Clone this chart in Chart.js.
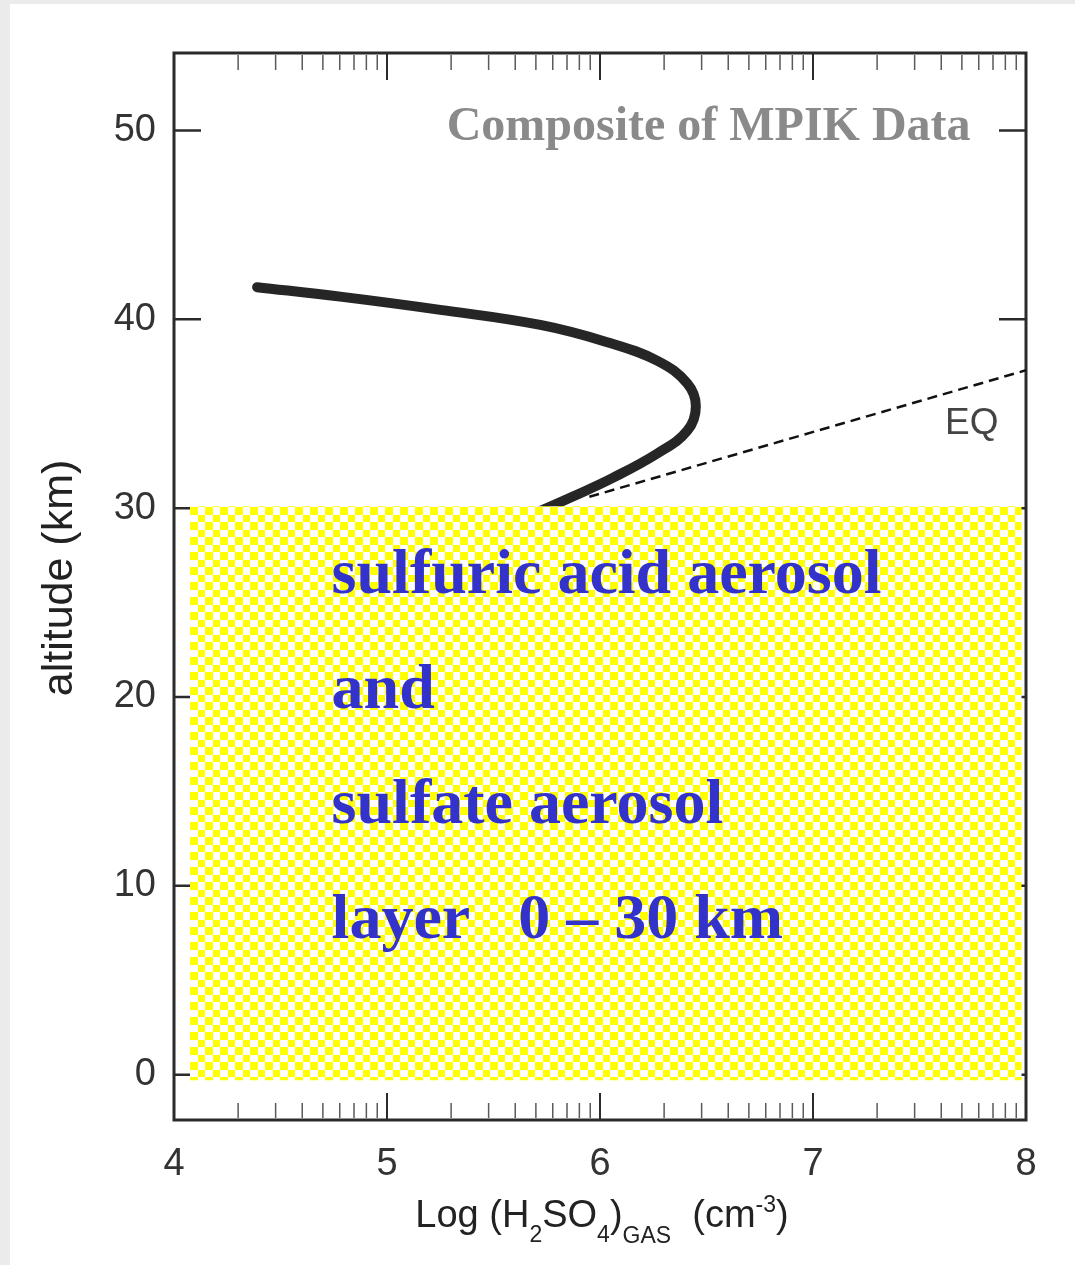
<!DOCTYPE html>
<html>
<head>
<meta charset="utf-8">
<script src="https://cdn.jsdelivr.net/npm/chart.js@4.4.1/dist/chart.umd.min.js"></script>
<style>
  html, body { margin: 0; padding: 0; background: #ebebeb; }
  #wrap { position: absolute; left: 0; top: 0; width: 1075px; height: 1265px; }
</style>
</head>
<body>
<div id="wrap"><canvas id="chart" width="1075" height="1265"></canvas></div>
<script>
// H2SO4 gas profile, log10(cm^-3) against altitude (km)
const curveX = [4.39, 4.78, 5.25, 5.72, 6.03, 6.27, 6.41, 6.45, 6.41, 6.27, 6.06, 5.87, 5.69];
const curveY = [41.7, 41.2, 40.5, 39.7, 38.8, 37.8, 36.6, 35.4, 34.1, 32.9, 31.6, 30.6, 29.7];

// equilibrium line (dashed)
const eqX = [5.95, 8.0];
const eqY = [30.6, 37.3];

// aerosol layer box
const layerX = [4.075, 7.98];
const layerTop = [30.1, 30.1];
const layerBottom = -0.3;

const xTicks = [4, 5, 6, 7, 8];
const yTicks = [0, 10, 20, 30, 40, 50];
const minorPerDecade = [2, 3, 4, 5, 6, 7, 8, 9];

const layerLines = ["sulfuric acid aerosol", "and", "sulfate aerosol", "layer   0 \u2013 30 km"];

const SANS = '"Liberation Sans", Arial, sans-serif';
const SERIF = '"Liberation Serif", "Times New Roman", serif';

// yellow / white checker like the original fill
function checker() {
  const c = document.createElement("canvas");
  c.width = 15; c.height = 15;
  const g = c.getContext("2d");
  g.fillStyle = "#ffffff";
  g.fillRect(0, 0, 15, 15);
  g.fillStyle = "#ffff00";
  g.fillRect(0, 0, 8, 8);
  g.fillRect(8, 8, 7, 7);
  const p = g.createPattern(c, "repeat");
  p.setTransform(new DOMMatrix().translate(190, 507));
  return p;
}

const background = {
  id: "background",
  beforeDraw(chart) {
    const ctx = chart.ctx;
    ctx.save();
    ctx.fillStyle = "#ebebeb";
    ctx.fillRect(0, 0, chart.width, chart.height);
    ctx.fillStyle = "#ffffff";
    ctx.fillRect(10, 4, chart.width - 10, chart.height - 4);
    ctx.restore();
  }
};

const frameAndTicks = {
  id: "frameAndTicks",
  beforeDatasetsDraw(chart) {
    const { ctx, chartArea: a, scales: { x, y } } = chart;
    ctx.save();
    ctx.strokeStyle = "#2b2b2b";
    ctx.lineWidth = 2.5;
    yTicks.forEach((v) => {
      const py = y.getPixelForValue(v);
      ctx.beginPath();
      ctx.moveTo(a.left, py); ctx.lineTo(a.left + 27, py);
      ctx.moveTo(a.right, py); ctx.lineTo(a.right - 27, py);
      ctx.stroke();
    });
    for (let d = xTicks[0]; d < xTicks[xTicks.length - 1]; d++) {
      ctx.strokeStyle = "#5a5a5a";
      ctx.lineWidth = 1.5;
      minorPerDecade.forEach((k) => {
        const px = x.getPixelForValue(d + Math.log10(k));
        ctx.beginPath();
        ctx.moveTo(px, a.top + 2); ctx.lineTo(px, a.top + 17);
        ctx.moveTo(px, a.bottom - 2); ctx.lineTo(px, a.bottom - 17);
        ctx.stroke();
      });
      if (d > xTicks[0]) {
        const px = x.getPixelForValue(d);
        ctx.strokeStyle = "#2b2b2b";
        ctx.lineWidth = 2;
        ctx.beginPath();
        ctx.moveTo(px, a.top); ctx.lineTo(px, a.top + 27);
        ctx.moveTo(px, a.bottom); ctx.lineTo(px, a.bottom - 27);
        ctx.stroke();
      }
    }
    ctx.strokeStyle = "#2b2b2b";
    ctx.lineWidth = 3;
    ctx.strokeRect(a.left, a.top, a.right - a.left, a.bottom - a.top);
    ctx.restore();
  }
};

const labels = {
  id: "labels",
  afterDatasetsDraw(chart) {
    const { ctx, scales: { x, y } } = chart;
    ctx.save();
    ctx.textBaseline = "alphabetic";
    ctx.textAlign = "left";

    ctx.fillStyle = "#8a8a8a";
    ctx.font = "bold 48px " + SERIF;
    ctx.fillText("Composite of MPIK Data", x.getPixelForValue(5.28), y.getPixelForValue(49.5));

    ctx.fillStyle = "#444";
    ctx.font = "37px " + SANS;
    ctx.fillText("EQ", x.getPixelForValue(7.62), y.getPixelForValue(33.9));

    ctx.fillStyle = "#3333cc";
    ctx.font = "bold 64px " + SERIF;
    const lx = x.getPixelForValue(4.74);
    const ly = y.getPixelForValue(25.5);
    layerLines.forEach((t, i) => ctx.fillText(t, lx, ly + i * 115));
    ctx.restore();
  },
  afterDraw(chart) {
    const { ctx, chartArea: a } = chart;
    ctx.save();
    ctx.fillStyle = "#222";
    // y title
    ctx.font = "43px " + SANS;
    ctx.textAlign = "center";
    ctx.textBaseline = "middle";
    ctx.translate(60, 578);
    ctx.rotate(-Math.PI / 2);
    ctx.fillText("altitude (km)", 0, 0);
    ctx.restore();

    // x title with sub/superscripts
    ctx.save();
    ctx.fillStyle = "#222";
    ctx.textAlign = "left";
    ctx.textBaseline = "alphabetic";
    const parts = [
      ["Log (H", 0, 38], ["2", 15, 23], ["SO", 0, 38], ["4", 15, 23], [")", 0, 38],
      ["GAS", 16, 23], ["  (cm", 0, 38], ["-3", -15, 23], [")", 0, 38]
    ];
    let w = 0;
    parts.forEach(([t, dy, s]) => { ctx.font = s + "px " + SANS; w += ctx.measureText(t).width; });
    let px = 602 - w / 2;
    const base = 1227;
    parts.forEach(([t, dy, s]) => {
      ctx.font = s + "px " + SANS;
      ctx.fillText(t, px, base + dy);
      px += ctx.measureText(t).width;
    });
    ctx.restore();
  }
};

const ctx = document.getElementById("chart").getContext("2d");

new Chart(ctx, {
  type: "scatter",
  data: {
    datasets: [
      {
        label: "layer",
        data: layerX.map((v, i) => ({ x: v, y: layerTop[i] })),
        showLine: true,
        borderColor: "rgba(0,0,0,0)",
        borderWidth: 0,
        pointRadius: 0,
        backgroundColor: checker(),
        fill: { value: layerBottom },
        order: 0
      },
      {
        label: "H2SO4",
        data: curveX.map((v, i) => ({ x: v, y: curveY[i] })),
        showLine: true,
        borderColor: "#262626",
        borderWidth: 10,
        borderCapStyle: "round",
        borderJoinStyle: "round",
        tension: 0.4,
        pointRadius: 0,
        fill: false,
        order: 1
      },
      {
        label: "EQ",
        data: eqX.map((v, i) => ({ x: v, y: eqY[i] })),
        showLine: true,
        borderColor: "#111",
        borderWidth: 2.5,
        borderDash: [10, 6],
        pointRadius: 0,
        fill: false,
        order: 1
      }
    ]
  },
  options: {
    responsive: false,
    animation: false,
    devicePixelRatio: 1,
    layout: { padding: { top: 53, right: 49, left: 0, bottom: 0 } },
    plugins: { legend: { display: false }, tooltip: { enabled: false } },
    scales: {
      x: {
        type: "linear",
        min: 4,
        max: 8,
        afterBuildTicks: (s) => { s.ticks = xTicks.map((v) => ({ value: v })); },
        afterFit: (s) => { s.height = 145; },
        grid: { display: false, drawTicks: false },
        border: { display: false },
        ticks: { font: { family: SANS, size: 38 }, color: "#333", padding: 22 }
      },
      y: {
        type: "linear",
        min: -2.4,
        max: 54.1,
        afterBuildTicks: (s) => { s.ticks = yTicks.map((v) => ({ value: v })); },
        afterFit: (s) => { s.width = 174; },
        grid: { display: false, drawTicks: false },
        border: { display: false },
        ticks: { font: { family: SANS, size: 38 }, color: "#333", padding: 18 }
      }
    }
  },
  plugins: [background, frameAndTicks, labels]
});
</script>
</body>
</html>
